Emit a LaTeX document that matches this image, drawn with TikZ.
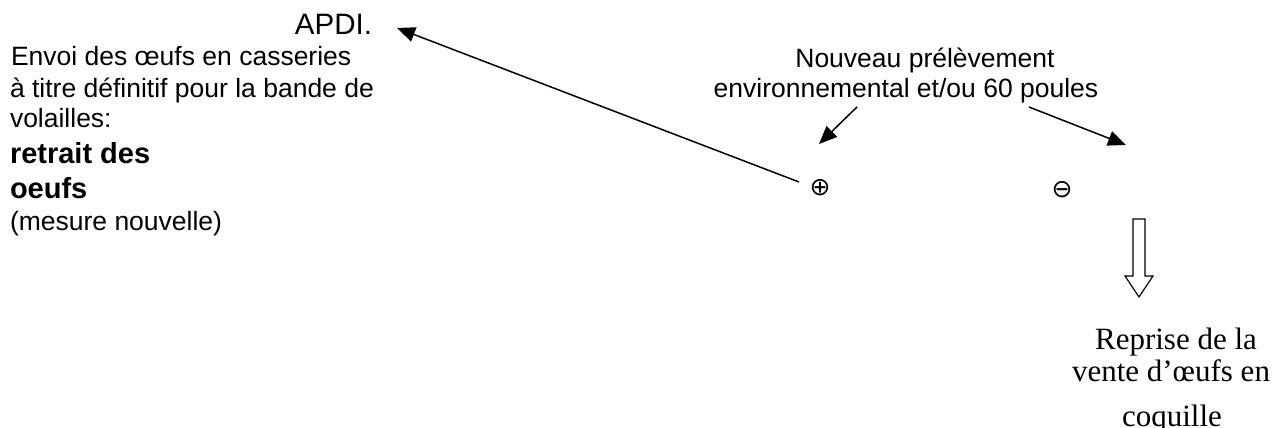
\documentclass[tikz,border=0pt]{standalone}
\usepackage{fontspec}
\setmainfont{Liberation Sans}
\newfontfamily\serifface{Liberation Serif}
\newfontfamily\symface{DejaVu Sans}
\usetikzlibrary{arrows.meta}

\tikzset{
  txt/.style={inner sep=0pt, outer sep=0pt, font=\fontsize{26.5}{31}\selectfont},
  boldtxt/.style={txt, font=\fontsize{29}{34}\selectfont\bfseries},
  bigtxt/.style={txt, font=\fontsize{29.5}{34}\selectfont},
  sertxt/.style={inner sep=0pt, outer sep=0pt, font=\fontsize{31}{33}\selectfont\serifface},
  sign/.style={inner sep=0pt, outer sep=0pt, font=\fontsize{25}{25}\selectfont\symface},
  pointer/.style={line width=1.5pt, -{Triangle[length=18pt,width=15pt]}},
  blockarrow/.style={draw=black, line width=1.2pt, fill=white, line join=miter}
}

\begin{document}
\begin{tikzpicture}[x=1pt, y=-1pt]
  \useasboundingbox (0,0) rectangle (1278,428);

  % left block: measure taken on the eggs
  \node[bigtxt, anchor=base east] (apdi) at (372,35) {APDI.};
  \node[txt, anchor=base west] (l1) at (11,66) {Envoi des œufs en casseries};
  \node[txt, anchor=base west] (l2) at (10,97) {à titre définitif pour la bande de};
  \node[txt, anchor=base west] (l3) at (10,128) {volailles:};
  \node[boldtxt, anchor=base west] (l4) at (10,163) {retrait des};
  \node[boldtxt, anchor=base west] (l5) at (10,198) {oeufs};
  \node[txt, anchor=base west] (l6) at (10,230) {(mesure nouvelle)};

  % new sampling
  \node[txt, anchor=base] (n1) at (925,67) {Nouveau prélèvement};
  \node[txt, anchor=base] (n2) at (906,97) {environnemental et/ou 60 poules};

  % results
  \node[sign] (plus) at (820,188) {⊕};
  \node[sign] (minus) at (1062,190) {⊖};

  % outcome of a negative result
  \node[sertxt, anchor=base] (r1) at (1176,349) {Reprise de la};
  \node[sertxt, anchor=base] (r2) at (1171,381) {vente d’œufs en};
  \node[sertxt, anchor=base] (r3) at (1172,426) {coquille};

  % arrow end points
  \coordinate (aFrom) at (799,182);
  \coordinate (aTo) at (397,28);
  \coordinate (bFrom) at (857,107);
  \coordinate (bTo) at (819,144);
  \coordinate (cFrom) at (1029,107);
  \coordinate (cTo) at (1126,145);

  \draw[pointer] (aFrom) -- (aTo);
  \draw[pointer] (bFrom) -- (bTo);
  \draw[pointer] (cFrom) -- (cTo);

  % hollow block arrow pointing down
  \draw[blockarrow] (1133,219) -- (1145,219) -- (1145,276) -- (1153,276)
    -- (1139,297) -- (1125,276) -- (1133,276) -- cycle;
\end{tikzpicture}
\end{document}
